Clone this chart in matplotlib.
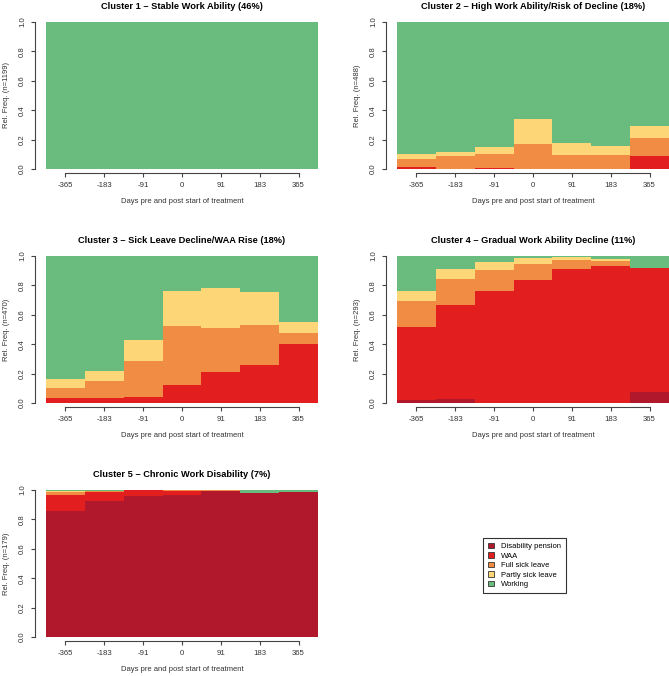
import matplotlib
matplotlib.use('Agg')
import matplotlib.pyplot as plt
from matplotlib.patches import Patch

plt.rcParams['font.family'] = ['Liberation Sans', 'DejaVu Sans']

days = ['-365', '-183', '-91', '0', '91', '183', '365']
states = ['Disability pension', 'WAA', 'Full sick leave', 'Partly sick leave', 'Working']
state_colors = ['#B2182B', '#E31E1E', '#F08C44', '#FDD777', '#69BB7E']

titles = ['Cluster 1 \u2013 Stable Work Ability (46%)',
          'Cluster 2 \u2013 High Work Ability/Risk of Decline (18%)',
          'Cluster 3 \u2013 Sick Leave Decline/WAA Rise (18%)',
          'Cluster 4 \u2013 Gradual Work Ability Decline (11%)',
          'Cluster 5 \u2013 Chronic Work Disability (7%)']
n_sizes = [1199, 488, 470, 293, 179]

# relative frequencies per state (DP, WAA, Full, Partly, Working)
c1_dp = [0, 0, 0, 0, 0, 0, 0]
c1_waa = [0, 0, 0, 0, 0, 0, 0]
c1_full = [0, 0, 0, 0, 0, 0, 0]
c1_partly = [0, 0, 0, 0, 0, 0, 0]
c1_work = [1, 1, 1, 1, 1, 1, 1]

c2_dp = [0, 0, 0, 0, 0, 0, 0]
c2_waa = [0.014, 0, 0.005, 0, 0, 0, 0.086]
c2_full = [0.056, 0.086, 0.095, 0.173, 0.095, 0.098, 0.128]
c2_partly = [0.03, 0.032, 0.05, 0.167, 0.085, 0.057, 0.076]
c2_work = [0.90, 0.882, 0.85, 0.66, 0.82, 0.845, 0.71]

c3_dp = [0, 0, 0, 0, 0, 0, 0]
c3_waa = [0.036, 0.032, 0.04, 0.124, 0.208, 0.256, 0.40]
c3_full = [0.064, 0.118, 0.247, 0.399, 0.303, 0.276, 0.077]
c3_partly = [0.063, 0.07, 0.143, 0.242, 0.274, 0.224, 0.077]
c3_work = [0.837, 0.78, 0.57, 0.235, 0.215, 0.244, 0.446]

c4_dp = [0.018, 0.025, 0, 0, 0, 0, 0.075]
c4_waa = [0.498, 0.64, 0.76, 0.837, 0.912, 0.934, 0.843]
c4_full = [0.181, 0.179, 0.143, 0.109, 0.063, 0.032, 0.002]
c4_partly = [0.068, 0.068, 0.054, 0.038, 0.016, 0.016, 0.0]
c4_work = [0.235, 0.088, 0.043, 0.016, 0.009, 0.018, 0.08]

c5_dp = [0.855, 0.925, 0.96, 0.964, 0.991, 0.98, 0.984]
c5_waa = [0.113, 0.061, 0.04, 0.027, 0.004, 0.0, 0.0]
c5_full = [0.021, 0.007, 0, 0.007, 0.003, 0.002, 0.0]
c5_partly = [0.002, 0, 0, 0, 0, 0, 0]
c5_work = [0.009, 0.007, 0, 0.002, 0.002, 0.018, 0.016]

clusters = [
    [c1_dp, c1_waa, c1_full, c1_partly, c1_work],
    [c2_dp, c2_waa, c2_full, c2_partly, c2_work],
    [c3_dp, c3_waa, c3_full, c3_partly, c3_work],
    [c4_dp, c4_waa, c4_full, c4_partly, c4_work],
    [c5_dp, c5_waa, c5_full, c5_partly, c5_work],
]

W, H = 669, 676
fig = plt.figure(figsize=(W / 100, H / 100), dpi=100)

# panel boxes in pixels: left, top (all same width/height)
boxes = [(46, 22), (397, 22), (46, 256), (397, 256), (46, 490)]
pw, ph = 272, 147

for i, (x0, y0) in enumerate(boxes):
    ax = fig.add_axes([x0 / W, 1 - (y0 + ph) / H, pw / W, ph / H])
    bottom = [0] * len(days)
    pos = list(range(len(days)))
    for vals, col in zip(clusters[i], state_colors):
        ax.bar(pos, vals, width=1.0, bottom=bottom, color=col, linewidth=0)
        bottom = [b + v for b, v in zip(bottom, vals)]
    ax.set_xlim(-0.5, 6.5)
    ax.set_ylim(0, 1)
    ax.set_xticks(pos)
    ax.set_xticklabels(days)
    ax.set_yticks([0, 0.2, 0.4, 0.6, 0.8, 1.0])
    ax.set_yticklabels(['0.0', '0.2', '0.4', '0.6', '0.8', '1.0'])
    for s in ['top', 'right']:
        ax.spines[s].set_visible(False)
    # R style axes: detached from the plot region
    ax.spines['left'].set_position(('outward', 8))
    ax.spines['bottom'].set_position(('outward', 3))
    ax.spines['left'].set_bounds(0, 1)
    ax.spines['bottom'].set_bounds(0, 6)
    for s in ['left', 'bottom']:
        ax.spines[s].set_color('#444444')
        ax.spines[s].set_linewidth(0.8)
    ax.tick_params(direction='out', length=3, width=0.8, color='#444444',
                   labelsize=5.6, labelcolor='#333333')
    ax.tick_params(axis='x', pad=3.6)
    ax.tick_params(axis='y', pad=3.5, labelrotation=90)
    for lab in ax.get_yticklabels():
        lab.set_va('center')
    ax.set_title(titles[i], fontsize=6.7, fontweight='bold', pad=9.5)
    ax.set_xlabel('Days pre and post start of treatment', fontsize=5.5, color='#333333', labelpad=6)
    ax.set_ylabel('Rel. Freq. (n=%d)' % n_sizes[i], fontsize=5.5, color='#333333', labelpad=6.5)

handles = [Patch(facecolor=c, edgecolor='#333333', linewidth=0.6) for c in state_colors]
leg = fig.legend(handles, states, loc='upper left', bbox_to_anchor=(483 / W, 1 - 538 / H),
                 fontsize=5.5, frameon=True, fancybox=False, framealpha=1,
                 handlelength=0.8, handleheight=0.8, handletextpad=1.0,
                 borderpad=0.6, labelspacing=0.25, borderaxespad=0)
leg.get_frame().set_edgecolor('#333333')
leg.get_frame().set_linewidth(0.8)

plt.savefig('out.png', dpi=100)
